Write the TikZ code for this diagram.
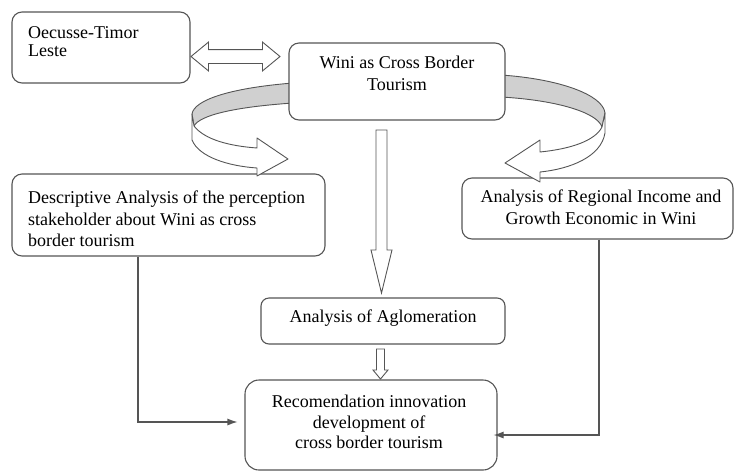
\documentclass[tikz,border=0pt]{standalone}
\usepackage{fontspec}
\setmainfont{LiberationSerif}[Extension=.ttf, UprightFont=*-Regular, BoldFont=*-Bold, ItalicFont=*-Italic]
\usetikzlibrary{shapes.arrows,arrows.meta,calc}
\definecolor{lc}{HTML}{555555}
\definecolor{band}{HTML}{D0D0D0}
\begin{document}
\begin{tikzpicture}[x=1pt,y=-1pt,
  box/.style={draw=lc, line width=1.1pt, fill=white, rounded corners=10pt, inner sep=0pt, rectangle},
  txt/.style={font=\rmfamily\fontsize{18}{21.5}\selectfont, inner sep=0pt, text=black},
  conn/.style={draw=lc, line width=1.1pt, -{Latex[length=10pt,width=7pt]}},
  hollow/.style={draw=lc, line width=0.9pt, fill=white, line join=miter},
  ribbon/.style={draw=lc, line width=0.9pt, line join=round},
]
\useasboundingbox (0,0) rectangle (734,475);

% boxes that sit under the ring ends
\node[box, minimum width=178pt, minimum height=71pt] (oec) at (101,47.5) {};
\node[txt, anchor=north west, align=left, font=\rmfamily\fontsize{18}{18}\selectfont] (oecT) at (28,26.7) {Oecusse-Timor\\Leste};

\node[box, minimum width=313pt, minimum height=82pt] (desc) at (168.5,215) {};
\node[txt, anchor=north west, align=left] (descT) at (28,191) {Descriptive Analysis of the perception\\stakeholder about Wini as cross\\border tourism};

\node[box, minimum width=271pt, minimum height=61pt] (reg) at (597.5,208.5) {};
\node[txt, anchor=north, align=center] (regT) at (601,190) {Analysis of Regional Income and\\Growth Economic in Wini};

% left half of the ring arrow
\filldraw[ribbon, fill=band] (293,83) .. controls (230,88) and (194,100) .. (192,114)
  -- (194,126) .. controls (200,115) and (235,107) .. (293,103) -- cycle;
\filldraw[ribbon, fill=white] (192,114) -- (192,140) .. controls (199,157) and (228,166) .. (257,168)
  -- (257,176) -- (288,159) -- (257,138) -- (257,148)
  .. controls (230,146) and (205,140) .. (194,126) -- cycle;

% right half of the ring arrow
\filldraw[ribbon, fill=band] (501,75) .. controls (560,79) and (603,95) .. (605,113)
  -- (602,127) .. controls (597,112) and (555,100) .. (501,97) -- cycle;
\filldraw[ribbon, fill=white] (605,113) -- (605,133) .. controls (601,157) and (570,169) .. (540,172)
  -- (540,182) -- (505,163) -- (540,140) -- (540,152)
  .. controls (570,149) and (595,141) .. (602,127) -- cycle;

\node[box, minimum width=216pt, minimum height=77pt] (wini) at (397,81.5) {};
\node[txt, anchor=north, align=center] (winiT) at (397,56) {Wini as Cross Border\\Tourism};

\node[box, rounded corners=8pt, minimum width=244pt, minimum height=46pt] (agl) at (383,321) {};
\node[txt, anchor=north] (aglT) at (383,310) {Analysis of Aglomeration};

\node[box, rounded corners=14pt, minimum width=252pt, minimum height=90pt] (rec) at (371,425) {};
\node[txt, anchor=north, align=center, font=\rmfamily\fontsize{18}{20.5}\selectfont] (recT) at (369,395) {Recomendation innovation\\development of\\cross border tourism};

% hollow block arrows
\node[hollow, double arrow, inner sep=6.5pt, minimum height=89pt, minimum width=0pt,
      double arrow head extend=7.5pt, double arrow tip angle=79] (dbl) at (235.5,56.5) {};
\filldraw[hollow] (376,130) -- (387,130) -- (387,250) -- (392,250) -- (381.5,293)
  -- (371,250) -- (376,250) -- cycle;
\filldraw[hollow] (376.5,349) -- (384.5,349) -- (384.5,370) -- (388,370) -- (380.5,379)
  -- (373,370) -- (376.5,370) -- cycle;

% connectors
\draw[conn, shorten >=7pt] ([xshift=-30.5pt]desc.south) |- ([yshift=3pt]rec.west);
\draw[conn, shorten >=-4pt] ([xshift=1.5pt]reg.south) |- ([yshift=-10pt]rec.east);
\end{tikzpicture}
\end{document}
